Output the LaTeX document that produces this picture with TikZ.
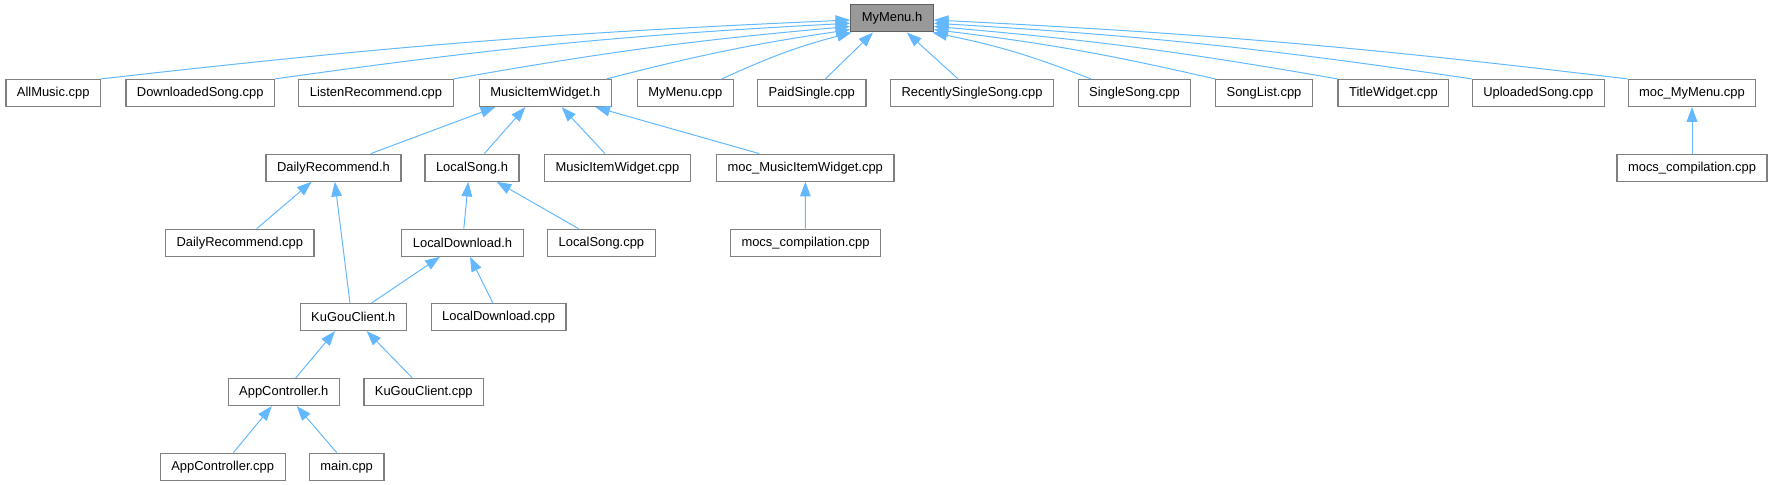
\documentclass[tikz,border=0pt]{standalone}
\usepackage{fontspec}
\setmainfont{Liberation Sans}
\usetikzlibrary{arrows.meta}
\definecolor{graphedge}{HTML}{63B8FF}
\definecolor{graphborder}{HTML}{808080}
\definecolor{graphfocus}{HTML}{999999}

\begin{document}
\begin{tikzpicture}[
  x=0.75pt,
  y=0.75pt,
  every node/.style={font=\fontsize{9.7}{11}\selectfont},
  file/.style={draw=graphborder, line width=0.9pt, fill=white,
    inner xsep=8.25pt, inner ysep=0pt, minimum height=20.25pt},
  focus/.style={file, fill=graphfocus, draw=graphborder!75!black},
  incl/.style={draw=graphedge, line width=0.75pt,
    -{Triangle[length=11pt,width=8pt]}}
]
  \useasboundingbox (0,0) rectangle (1773,-485);

  % ---- the header and the files that include it -----------------------
  \node[focus] (mymenu) at (892,-18.4) {MyMenu.h};

  \node[file] (allmusic)   at (53.2,-93)   {AllMusic.cpp};
  \node[file] (downloaded) at (200.2,-93)  {DownloadedSong.cpp};
  \node[file] (listen)     at (376,-93)    {ListenRecommend.cpp};
  \node[file] (itemh)      at (545.3,-93)  {MusicItemWidget.h};
  \node[file] (menucpp)    at (685.3,-93)  {MyMenu.cpp};
  \node[file] (paid)       at (811.8,-93)  {PaidSingle.cpp};
  \node[file] (recent)     at (972,-93)    {RecentlySingleSong.cpp};
  \node[file] (single)     at (1134.5,-93) {SingleSong.cpp};
  \node[file] (songlist)   at (1264,-93)   {SongList.cpp};
  \node[file] (title)      at (1393.4,-93) {TitleWidget.cpp};
  \node[file] (uploaded)   at (1538.3,-93) {UploadedSong.cpp};
  \node[file] (mocmenu)    at (1692,-93)   {moc\_MyMenu.cpp};

  % ---- third row ------------------------------------------------------
  \node[file] (dailyh)   at (333.5,-167.7) {DailyRecommend.h};
  \node[file] (songh)    at (472,-167.7)   {LocalSong.h};
  \node[file] (itemcpp)  at (617.4,-167.7) {MusicItemWidget.cpp};
  \node[file] (mocitem)  at (805.3,-167.7) {moc\_MusicItemWidget.cpp};
  \node[file] (mocsmenu) at (1692,-167.7)  {mocs\_compilation.cpp};

  % ---- fourth and fifth rows ------------------------------------------
  \node[file] (dailycpp) at (239.8,-242.7) {DailyRecommend.cpp};
  \node[file] (downh)    at (462.5,-242.7) {LocalDownload.h};
  \node[file] (songcpp)  at (601.4,-242.7) {LocalSong.cpp};
  \node[file] (mocsitem) at (805.5,-242.7) {mocs\_compilation.cpp};

  \node[file] (kugouh)   at (353.3,-317)   {KuGouClient.h};
  \node[file] (downcpp)  at (498.6,-317)   {LocalDownload.cpp};

  % ---- bottom rows ----------------------------------------------------
  \node[file] (apph)     at (283.8,-392)   {AppController.h};
  \node[file] (kugoucpp) at (423.8,-392)   {KuGouClient.cpp};

  \node[file] (appcpp)   at (222.7,-466.7) {AppController.cpp};
  \node[file] (maincpp)  at (346.7,-466.7) {main.cpp};

  % ---- includes of MyMenu.h -------------------------------------------
  \draw[incl] (allmusic.north east)   to[bend left=2]   ([yshift=-1.2pt]mymenu.west);
  \draw[incl] (downloaded.north east) to[bend left=2.5] ([yshift=-3.6pt]mymenu.west);
  \draw[incl] (listen.north east)     to[bend left=2.5] ([yshift=-6pt]mymenu.west);
  \draw[incl] ([xshift=-4pt]itemh.north east) to[bend left=3] ([yshift=-8.4pt]mymenu.west);
  \draw[incl] ([xshift=-9pt]menucpp.north east) to[bend left=5] ([xshift=1pt]mymenu.south west);
  \draw[incl] ([xshift=10.2pt]paid.north)  -- ([xshift=-14.2pt]mymenu.south);
  \draw[incl] ([xshift=-10.5pt]recent.north) -- ([xshift=11.2pt]mymenu.south);
  \draw[incl] ([xshift=10pt]single.north west) to[bend right=5] ([xshift=-1pt]mymenu.south east);
  \draw[incl] (songlist.north west)   to[bend right=3]   ([yshift=-8.4pt]mymenu.east);
  \draw[incl] (title.north west)      to[bend right=2.5] ([yshift=-6pt]mymenu.east);
  \draw[incl] (uploaded.north west)   to[bend right=2.5] ([yshift=-3.6pt]mymenu.east);
  \draw[incl] (mocmenu.north west)    to[bend right=2]   ([yshift=-1.2pt]mymenu.east);

  % ---- includes further down ------------------------------------------
  \draw[incl] ([xshift=28pt]dailyh.north)    -- ([xshift=-37.5pt]itemh.south);
  \draw[incl] ([xshift=9.3pt]songh.north)    -- ([xshift=-15pt]itemh.south);
  \draw[incl] ([xshift=-9.3pt]itemcpp.north) -- ([xshift=12.3pt]itemh.south);
  \draw[incl] ([xshift=-34.5pt]mocitem.north) -- ([xshift=37.5pt]itemh.south);
  \draw[incl] (mocsmenu) -- (mocmenu);

  \draw[incl] ([xshift=12.7pt]dailycpp.north) -- ([xshift=-16.4pt]dailyh.south);
  \draw[incl] ([xshift=-2.5pt]kugouh.north)   -- ([xshift=1pt]dailyh.south);
  \draw[incl] ([xshift=1pt]downh.north)       -- ([xshift=-2.8pt]songh.south);
  \draw[incl] ([xshift=-17.2pt]songcpp.north) -- ([xshift=18.5pt]songh.south);
  \draw[incl] (mocsitem) -- (mocitem);

  \draw[incl] ([xshift=13.8pt]kugouh.north)  -- ([xshift=-16.9pt]downh.south);
  \draw[incl] ([xshift=-4.4pt]downcpp.north) -- ([xshift=5.6pt]downh.south);

  \draw[incl] ([xshift=9pt]apph.north)      -- ([xshift=-13.7pt]kugouh.south);
  \draw[incl] ([xshift=-8.6pt]kugoucpp.north) -- ([xshift=10pt]kugouh.south);

  \draw[incl] ([xshift=8pt]appcpp.north)    -- ([xshift=-9pt]apph.south);
  \draw[incl] ([xshift=-7.5pt]maincpp.north) -- ([xshift=9.7pt]apph.south);
\end{tikzpicture}
\end{document}
